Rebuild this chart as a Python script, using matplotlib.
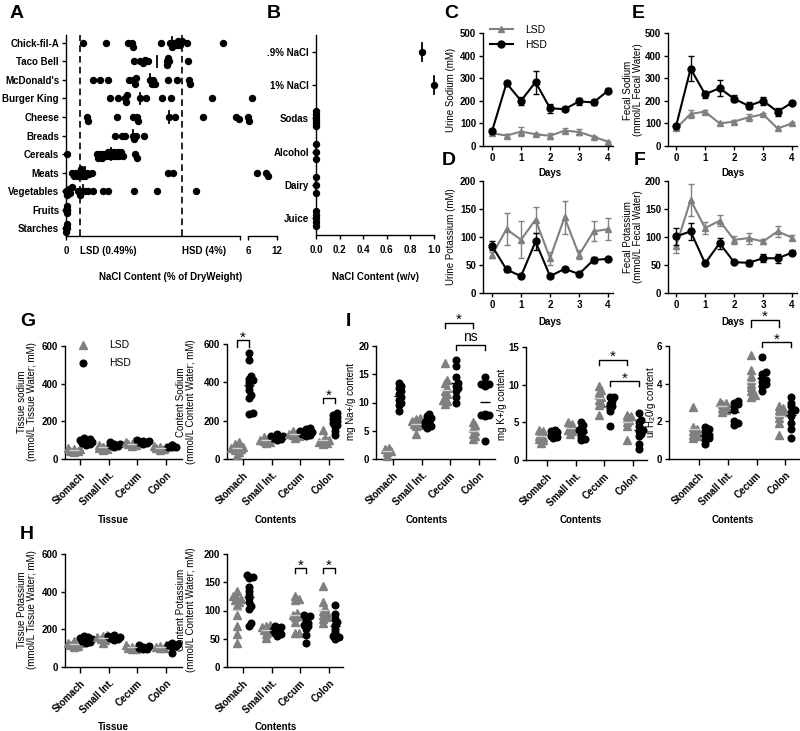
import numpy as np
import matplotlib.pyplot as plt

plt.rcParams['font.family'] = ['Liberation Sans', 'DejaVu Sans']
plt.rcParams['font.size'] = 7
plt.rcParams['mathtext.default'] = 'regular'
plt.rcParams['axes.linewidth'] = 1.0
plt.rcParams['xtick.major.width'] = 1.0
plt.rcParams['ytick.major.width'] = 1.0
plt.rcParams['xtick.major.size'] = 3
plt.rcParams['ytick.major.size'] = 3
plt.rcParams['xtick.major.pad'] = 2
plt.rcParams['ytick.major.pad'] = 2

GRAY = '#808080'
LIGHT = '#d0d0d0'

# ---------------- A: NaCl in foods (% of dry weight)
food_names = ['Chick-fil-A', 'Taco Bell', "McDonald's", 'Burger King', 'Cheese',
              'Breads', 'Cereals', 'Meats', 'Vegetables', 'Fruits', 'Starches']
chick_fil_a = [0.57, 1.38, 2.15, 2.26, 2.32, 3.28, 3.59, 3.64, 3.72, 3.82, 3.87, 3.93, 3.99, 4.16, 5.43]
taco_bell = [2.36, 2.55, 2.64, 2.72, 2.84, 3.47, 3.49, 3.51, 3.54, 4.22]
mcdonalds = [0.94, 1.17, 1.46, 2.17, 2.32, 2.38, 2.41, 2.90, 2.95, 3.01, 3.07, 3.53, 3.82, 4.25, 4.28]
burger_king = [1.52, 1.80, 2.03, 2.07, 2.11, 2.55, 2.76, 3.32, 3.62, 5.02, 6.9]
cheese = [0.74, 0.77, 1.77, 2.30, 2.46, 2.49, 3.55, 3.76, 4.74, 5.86, 5.95, 6.07, 6.27]
breads = [1.69, 1.92, 2.03, 2.30, 2.34, 2.41, 2.69]
cereals = [0.02, 1.06, 1.11, 1.17, 1.23, 1.29, 1.38, 1.44, 1.49, 1.55, 1.61, 1.67,
           1.72, 1.78, 1.84, 1.90, 1.95, 2.38, 2.44]
meats = [0.20, 0.28, 0.34, 0.41, 0.48, 0.50, 0.54, 0.60, 0.66, 0.71, 0.80, 0.89,
         3.53, 3.68, 7.8, 9.7, 10.1]
vegetables = [0.0, 0.05, 0.10, 0.15, 0.20, 0.43, 0.48, 0.54, 0.66, 0.77, 0.92,
              1.26, 1.46, 2.34, 3.13, 4.48]
fruits = [0.0, 0.02, 0.03, 0.04, 0.05]
starches = [0.0, 0.01, 0.03, 0.05]
food_vals = [chick_fil_a, taco_bell, mcdonalds, burger_king, cheese, breads,
             cereals, meats, vegetables, fruits, starches]

# ---------------- B: NaCl in drinks (w/v)
drink_names = ['.9% NaCl', '1% NaCl', 'Sodas', 'Alcohol', 'Dairy', 'Juice']
saline_09 = [0.9]
saline_1 = [1.0]
sodas = [0, 0, 0, 0, 0, 0]
alcohol = [0, 0, 0]
dairy = [0, 0, 0]
juice = [0, 0, 0, 0, 0]
drink_vals = [saline_09, saline_1, sodas, alcohol, dairy, juice]

# ---------------- C-F: time courses
days = [0, 0.5, 1, 1.5, 2, 2.5, 3, 3.5, 4]
urine_na_hsd = [65, 278, 200, 283, 167, 163, 197, 193, 245]
urine_na_hsd_err = [5, 8, 18, 51, 20, 10, 15, 10, 12]
urine_na_lsd = [57, 46, 64, 52, 45, 68, 62, 41, 19]
urine_na_lsd_err = [5, 5, 18, 5, 12, 10, 12, 5, 5]

urine_k_hsd = [84, 42, 30, 92, 30, 43, 34, 59, 61]
urine_k_hsd_err = [8, 5, 2, 15, 3, 3, 3, 6, 4]
urine_k_lsd = [68, 114, 95, 131, 62, 135, 68, 110, 114]
urine_k_lsd_err = [6, 28, 33, 23, 12, 29, 8, 18, 20]

fecal_na_hsd = [89, 342, 229, 256, 209, 178, 200, 152, 192]
fecal_na_hsd_err = [5, 55, 15, 35, 15, 15, 18, 18, 8]
fecal_na_lsd = [78, 142, 152, 100, 108, 127, 140, 78, 100]
fecal_na_lsd_err = [5, 18, 8, 8, 5, 15, 5, 8, 5]

fecal_k_hsd = [101, 110, 53, 89, 55, 54, 62, 62, 72]
fecal_k_hsd_err = [15, 15, 3, 10, 3, 5, 7, 8, 5]
fecal_k_lsd = [84, 166, 116, 129, 95, 98, 92, 110, 99]
fecal_k_lsd_err = [12, 29, 10, 10, 7, 10, 5, 10, 5]

# ---------------- G-I: gut segments
segments = ['Stomach', 'Small Int.', 'Cecum', 'Colon']

tis_na_lsd = [[38, 42, 45, 48, 50, 52, 55, 58], [50, 55, 58, 62, 65, 70, 75],
              [68, 72, 78, 82, 85, 90, 95], [50, 53, 56, 60, 62, 66, 70]]
tis_na_hsd = [[75, 80, 85, 88, 92, 95, 100, 105, 110], [65, 70, 72, 75, 78, 82, 88],
              [82, 86, 88, 92, 95, 98, 102], [62, 64, 66, 68, 70, 72, 75]]

cont_na_lsd = [[20, 35, 45, 50, 55, 60, 65, 72, 80, 90], [82, 90, 95, 100, 105, 110, 115],
               [110, 120, 125, 130, 135, 140, 145], [80, 85, 88, 92, 95, 100, 110, 150]]
cont_na_hsd = [[555, 515, 435, 420, 410, 400, 380, 360, 335, 320, 238, 235],
               [100, 105, 110, 113, 118, 122, 130],
               [120, 125, 130, 135, 140, 145, 155, 162],
               [125, 145, 165, 180, 190, 200, 210, 220, 230, 238]]

tis_k_lsd = [[105, 110, 115, 120, 125, 130, 140], [130, 145, 150, 155, 160, 165, 170],
             [95, 98, 100, 105, 110, 115], [100, 103, 105, 108, 112, 115]]
tis_k_hsd = [[130, 135, 140, 145, 150, 155, 160, 165], [145, 148, 152, 155, 160, 165, 172],
             [95, 98, 100, 103, 107, 112, 118], [75, 105, 110, 115, 118, 122, 125]]

cont_k_lsd = [[42, 58, 72, 92, 110, 115, 118, 120, 122, 125, 135],
              [52, 58, 62, 65, 68, 70, 72, 75],
              [60, 60, 80, 88, 90, 92, 95, 118, 120, 125],
              [78, 85, 88, 92, 95, 100, 105, 115, 143]]
cont_k_hsd = [[73, 78, 103, 108, 115, 122, 128, 135, 142, 158, 160, 162],
              [55, 58, 60, 62, 65, 68, 70, 73],
              [43, 57, 68, 72, 75, 78, 82, 88, 90, 92],
              [50, 53, 55, 62, 68, 75, 80, 85, 93, 110]]

na_g_lsd = [[0.5, 1.2, 1.5, 1.7, 1.9], [4.5, 5.8, 6.0, 6.2, 6.5, 6.7, 7.0, 7.2],
            [9.8, 10.2, 10.5, 11.0, 11.5, 12.0, 12.5, 13.5, 14.0, 17.0],
            [3.5, 4.0, 4.5, 5.0, 5.5, 6.0, 6.5]]
na_g_hsd = [[8.5, 9.5, 10.0, 10.5, 11.0, 11.5, 12.0, 12.5, 13.0, 13.5],
            [5.5, 5.8, 6.0, 6.3, 6.6, 7.0, 7.3, 7.6, 8.0],
            [10.0, 11.0, 12.0, 12.5, 13.0, 13.5, 14.5, 16.5, 17.5],
            [3.1, 7.6, 7.7, 7.8, 8.0, 13.0, 13.2, 13.3, 13.5, 14.5]]

k_g_lsd = [[2.3, 2.6, 2.8, 3.0, 3.2, 3.5, 3.8, 4.0], [3.5, 3.8, 4.0, 4.2, 4.5, 4.8, 5.0],
           [6.0, 7.3, 7.6, 8.0, 8.3, 8.6, 9.0, 9.3, 9.8], [2.7, 4.5, 5.0, 5.3, 5.6, 5.8, 6.0]]
k_g_hsd = [[2.9, 3.0, 3.2, 3.5, 3.7, 3.8, 4.0], [2.6, 2.8, 3.0, 3.5, 3.8, 4.0, 4.3, 4.6, 5.0],
           [4.5, 6.5, 6.9, 7.2, 7.5, 7.8, 8.3, 8.4],
           [1.5, 2.1, 3.2, 3.5, 3.8, 4.0, 4.5, 5.0, 5.3, 6.3]]

h2o_g_lsd = [[1.1, 1.2, 1.3, 1.4, 1.5, 1.6, 1.7, 2.75], [2.5, 2.6, 2.7, 2.8, 2.9, 3.0, 3.05],
             [3.3, 3.4, 3.6, 3.8, 4.0, 4.2, 4.4, 4.7, 5.5], [1.3, 1.9, 2.2, 2.4, 2.5, 2.6, 2.7, 2.8]]
h2o_g_hsd = [[0.8, 1.0, 1.1, 1.2, 1.3, 1.5, 1.6, 1.7], [1.8, 1.9, 2.0, 2.6, 2.8, 2.9, 3.0, 3.1],
             [3.6, 3.9, 4.0, 4.1, 4.2, 4.3, 4.5, 4.6, 5.4],
             [1.1, 1.6, 1.9, 2.3, 2.5, 2.6, 2.8, 3.0, 3.3]]

W, H = 800, 731
fig = plt.figure(figsize=(W / 100, H / 100), dpi=100)


def box(l, r, t, b):
    return fig.add_axes([l / W, 1 - b / H, (r - l) / W, (b - t) / H])


def ftext(x, y, s, **kw):
    fig.text(x / W, 1 - y / H, s, **kw)


def bold_ticks(ax):
    for lab in ax.get_xticklabels() + ax.get_yticklabels():
        lab.set_fontweight('bold')


def swarm(vals, vpx, opx, d=6.0, gap=0.5, step=0.35, cap=None):
    # simple beeswarm: offsets (in offset-axis units), markers may overlap a bit
    vals = np.asarray(vals, float)
    offs = np.zeros(len(vals))
    placed = []
    for i in np.argsort(vals, kind='stable'):
        v = vals[i] * vpx
        k = 0
        while True:
            o = ((k + 1) // 2) * d * step * (1 if k % 2 else -1)
            if cap is not None and abs(o) > cap:
                o = 0.0
                break
            if all((o - po) ** 2 + (v - pv) ** 2 >= (gap * d) ** 2 for po, pv in placed):
                break
            k += 1
        placed.append((o, v))
        offs[i] = o / opx
    return offs


def bracket(ax, x1, x2, top, drop, s='*'):
    ax.plot([x1, x1, x2, x2], [drop, top, top, drop], color='black', lw=1, clip_on=False)
    off = -1 if s == '*' else 2.5
    ax.annotate(s, xy=((x1 + x2) / 2, top), xytext=(0, off), textcoords='offset points',
                ha='center', va='baseline', fontsize=11 if s == '*' else 10,
                annotation_clip=False)


# ---------------- panel A
axA = box(66, 240, 35, 236)
axA2 = box(248, 277, 35, 236)
for i, vals in enumerate(food_vals):
    v = np.asarray(vals, float)
    lo, hi = v[v <= 6], v[v > 6]
    axA.plot(lo, i + swarm(lo, 29, 18.5, d=5.5, gap=0.55, step=0.35, cap=5), 'o',
             color='black', ms=4.3, clip_on=False, zorder=3)
    if hi.size:
        axA2.plot(hi, i + swarm(hi, 29 / 6, 18.5, d=5.5, gap=0.55, step=0.35, cap=5), 'o',
                  color='black', ms=4.3, clip_on=False, zorder=3)
    med = np.median(v)
    axA.plot([med, med], [i - 0.32, i + 0.32], color='black', lw=1.3, zorder=4)
for ref in (0.49, 4):
    axA.axvline(ref, color='black', lw=1.2, ls=(0, (4, 2.5)), zorder=1)
axA.set_xlim(0, 6)
axA.set_ylim(10.43, -0.43)
axA.set_yticks(range(len(food_names)), food_names)
axA.set_xticks([0, 0.49, 4, 6], ['0', 'LSD (0.49%)', 'HSD (4%)', ''])
for k in (1, 2):
    axA.xaxis.get_major_ticks()[k].tick1line.set_visible(False)
    axA.get_xticklabels()[k].set_ha('left')
axA.tick_params(axis='x', pad=4)
for s in ('top', 'right'):
    axA.spines[s].set_visible(False)
bold_ticks(axA)
axA2.set_xlim(6, 12)
axA2.set_ylim(10.43, -0.43)
axA2.set_yticks([])
axA2.set_xticks([6, 12], ['6', '12'])
axA2.tick_params(axis='x', pad=4)
for s in ('top', 'right', 'left'):
    axA2.spines[s].set_visible(False)
bold_ticks(axA2)
ftext(171, 277, 'NaCl Content (% of DryWeight)', ha='center', va='center', fontweight='bold')

# ---------------- panel B
axB = box(316, 434, 35, 235)
for i, vals in enumerate(drink_vals):
    v = np.asarray(vals, float)
    dy = np.linspace(-0.23, 0.23, len(v)) if len(v) > 1 else np.zeros(1)
    axB.plot(v, i + dy, 'o', color='black', ms=4.3, clip_on=False, zorder=3)
    med = np.median(v)
    axB.plot([med, med], [i - 0.27, i + 0.27], color='black', lw=1.3, clip_on=False, zorder=4)
axB.set_xlim(0, 1)
axB.set_ylim(5.5, -0.5)
axB.set_yticks(range(len(drink_names)), drink_names)
bt = np.arange(0, 1.01, 0.2)
axB.set_xticks(bt, [f'{t:.1f}' for t in bt])
axB.tick_params(axis='x', pad=4)
for s in ('top', 'right'):
    axB.spines[s].set_visible(False)
bold_ticks(axB)
ftext(375, 277, 'NaCl Content (w/v)', ha='center', va='center', fontweight='bold')


# ---------------- panels C-F
def time_panel(ax, lsd, lsd_err, hsd, hsd_err, ymax, step, xlim):
    handles = []
    for y, e, col, mk, lab in ((lsd, lsd_err, GRAY, '^', 'LSD'), (hsd, hsd_err, 'black', 'o', 'HSD')):
        ax.errorbar(days, y, yerr=e, fmt='none', ecolor=col, elinewidth=1, capsize=2.5,
                    capthick=1, clip_on=False)
        h, = ax.plot(days, y, marker=mk, color=col, ms=5, lw=1.5, label=lab, clip_on=False)
        handles.append(h)
    ax.set_xlim(*xlim)
    ax.set_ylim(0, ymax)
    ax.set_xticks(range(5))
    ax.set_yticks(np.arange(0, ymax + 1, step))
    for s in ('top', 'right'):
        ax.spines[s].set_visible(False)
    bold_ticks(ax)
    return handles


axC = box(483, 613, 33, 146)
hC = time_panel(axC, urine_na_lsd, urine_na_lsd_err, urine_na_hsd, urine_na_hsd_err,
                500, 100, (-0.31, 4.17))
axC.legend(handles=hC, frameon=False, loc='upper left', bbox_to_anchor=(0.05, 1.07),
           borderaxespad=0, borderpad=0, handlelength=2.3, handletextpad=1.1,
           labelspacing=0.45, fontsize=7.5)
axD = box(483, 613, 181, 293)
time_panel(axD, urine_k_lsd, urine_k_lsd_err, urine_k_hsd, urine_k_hsd_err,
           200, 50, (-0.31, 4.17))
axE = box(668, 797, 33, 146)
time_panel(axE, fecal_na_lsd, fecal_na_lsd_err, fecal_na_hsd, fecal_na_hsd_err,
           500, 100, (-0.28, 4.17))
axF = box(668, 797, 181, 293)
time_panel(axF, fecal_k_lsd, fecal_k_lsd_err, fecal_k_hsd, fecal_k_hsd_err,
           200, 50, (-0.28, 4.17))

for x, y in ((550, 173), (733, 173), (550, 322), (733, 322)):
    ftext(x, y, 'Days', ha='center', va='center', fontweight='bold')
ftext(451, 90, 'Urine Sodium (mM)', rotation=90, ha='center', va='center')
ftext(451, 237, 'Urine Potassium (mM)', rotation=90, ha='center', va='center')
ftext(633, 90, 'Fecal Sodium\n(mmol/L Fecal Water)', rotation=90, ha='center',
      va='center', linespacing=1.0)
ftext(633, 237, 'Fecal Potassium\n(mmol/L Fecal Water)', rotation=90, ha='center',
      va='center', linespacing=1.0)


# ---------------- panels G-I
def group_panel(ax, lsd, hsd, ymax, step, xlim, hpx=113):
    vpx = hpx / ymax
    handles = []
    for i in range(len(segments)):
        for vals, col, mk, dx, mcol in ((lsd[i], GRAY, '^', -0.2, LIGHT),
                                        (hsd[i], 'black', 'o', 0.2, 'black')):
            v = np.asarray(vals, float)
            x = i + dx + swarm(v, vpx, 28.7, d=6.0, gap=0.5, step=0.33, cap=6)
            h, = ax.plot(x, v, mk, color=col, ms=5.2 if mk == '^' else 4.8, ls='none',
                         clip_on=False, zorder=3)
            ax.hlines(v.mean(), i + dx - 0.18, i + dx + 0.18, color=mcol, lw=1, zorder=4)
            if i == 0:
                handles.append(h)
    ax.set_xlim(*xlim)
    ax.set_ylim(0, ymax)
    ax.set_yticks(np.arange(0, ymax + step / 2, step))
    ax.set_xticks(range(len(segments)), segments, rotation=45, ha='right',
                  rotation_mode='anchor')
    ax.tick_params(axis='x', length=4, pad=4)
    for s in ('top', 'right'):
        ax.spines[s].set_visible(False)
    bold_ticks(ax)
    return handles


axG1 = box(65, 182, 346, 459)
hG = group_panel(axG1, tis_na_lsd, tis_na_hsd, 600, 200, (-0.52, 3.55))
axG1.legend(hG, ['LSD', 'HSD'], frameon=False, loc='upper left', bbox_to_anchor=(0.11, 1.05),
            borderaxespad=0, borderpad=0, handlelength=1, handletextpad=2.0,
            labelspacing=0.75, numpoints=1, fontsize=7.5)
axG2 = box(227, 343, 344, 459)
group_panel(axG2, cont_na_lsd, cont_na_hsd, 600, 200, (-0.56, 3.49), hpx=115)
bracket(axG2, -0.2, 0.2, 621, 585)
bracket(axG2, 2.8, 3.2, 318, 292)

axI1 = box(376, 495, 346, 459)
group_panel(axI1, na_g_lsd, na_g_hsd, 20, 5, (-0.59, 3.55))
bracket(axI1, 1.8, 2.8, 24.1, 23.2)
bracket(axI1, 2.2, 3.2, 20.2, 19.3, 'ns')
axI2 = box(526, 647, 347, 460)
group_panel(axI2, k_g_lsd, k_g_hsd, 15, 5, (-0.73, 3.49))
bracket(axI2, 1.8, 2.8, 13.3, 12.6)
bracket(axI2, 2.2, 3.2, 10.5, 9.8)
axI3 = box(669, 799, 346, 459)
group_panel(axI3, h2o_g_lsd, h2o_g_hsd, 6, 2, (-1.05, 3.48))
bracket(axI3, 1.8, 2.8, 7.4, 7.0)
bracket(axI3, 2.2, 3.2, 6.2, 5.95)

axH1 = box(65, 182, 554, 667)
group_panel(axH1, tis_k_lsd, tis_k_hsd, 600, 200, (-0.52, 3.55))
axH2 = box(227, 343, 554, 667)
group_panel(axH2, cont_k_lsd, cont_k_hsd, 200, 50, (-0.56, 3.49))
bracket(axH2, 1.8, 2.2, 175, 166)
bracket(axH2, 2.8, 3.2, 175, 166)

for x, y, s in ((113, 520, 'Tissue'), (276, 520, 'Contents'), (427, 520, 'Contents'),
                (581, 520, 'Contents'), (733, 520, 'Contents'),
                (113, 727, 'Tissue'), (276, 727, 'Contents')):
    ftext(x, y, s, ha='center', va='center', fontweight='bold')
for x, y, s in ((27, 402, 'Tissue sodium\n(mmol/L Tissue Water; mM)'),
                (186, 402, 'Content Sodium\n(mmol/L Content Water; mM)'),
                (351, 402, 'mg Na+/g content'),
                (502, 404, 'mg K+/g content'),
                (651, 402, 'ul H$_2$0/g content'),
                (27, 610, 'Tissue Potassium\n(mmol/L Tissue Water; mM)'),
                (186, 610, 'Content Potassium\n(mmol/L Content Water; mM)')):
    ftext(x, y, s, rotation=90, ha='center', va='center', linespacing=1.0)

# ---------------- panel letters
for x, y, s in ((10, 5, 'A'), (267, 5, 'B'), (444, 5, 'C'), (632, 5, 'E'),
                (442, 152, 'D'), (634, 152, 'F'), (20, 313, 'G'), (346, 313, 'I'),
                (20, 526, 'H')):
    ftext(x, y, s, ha='left', va='top', fontsize=14, fontweight='bold')

fig.savefig('out.png', dpi=100)
